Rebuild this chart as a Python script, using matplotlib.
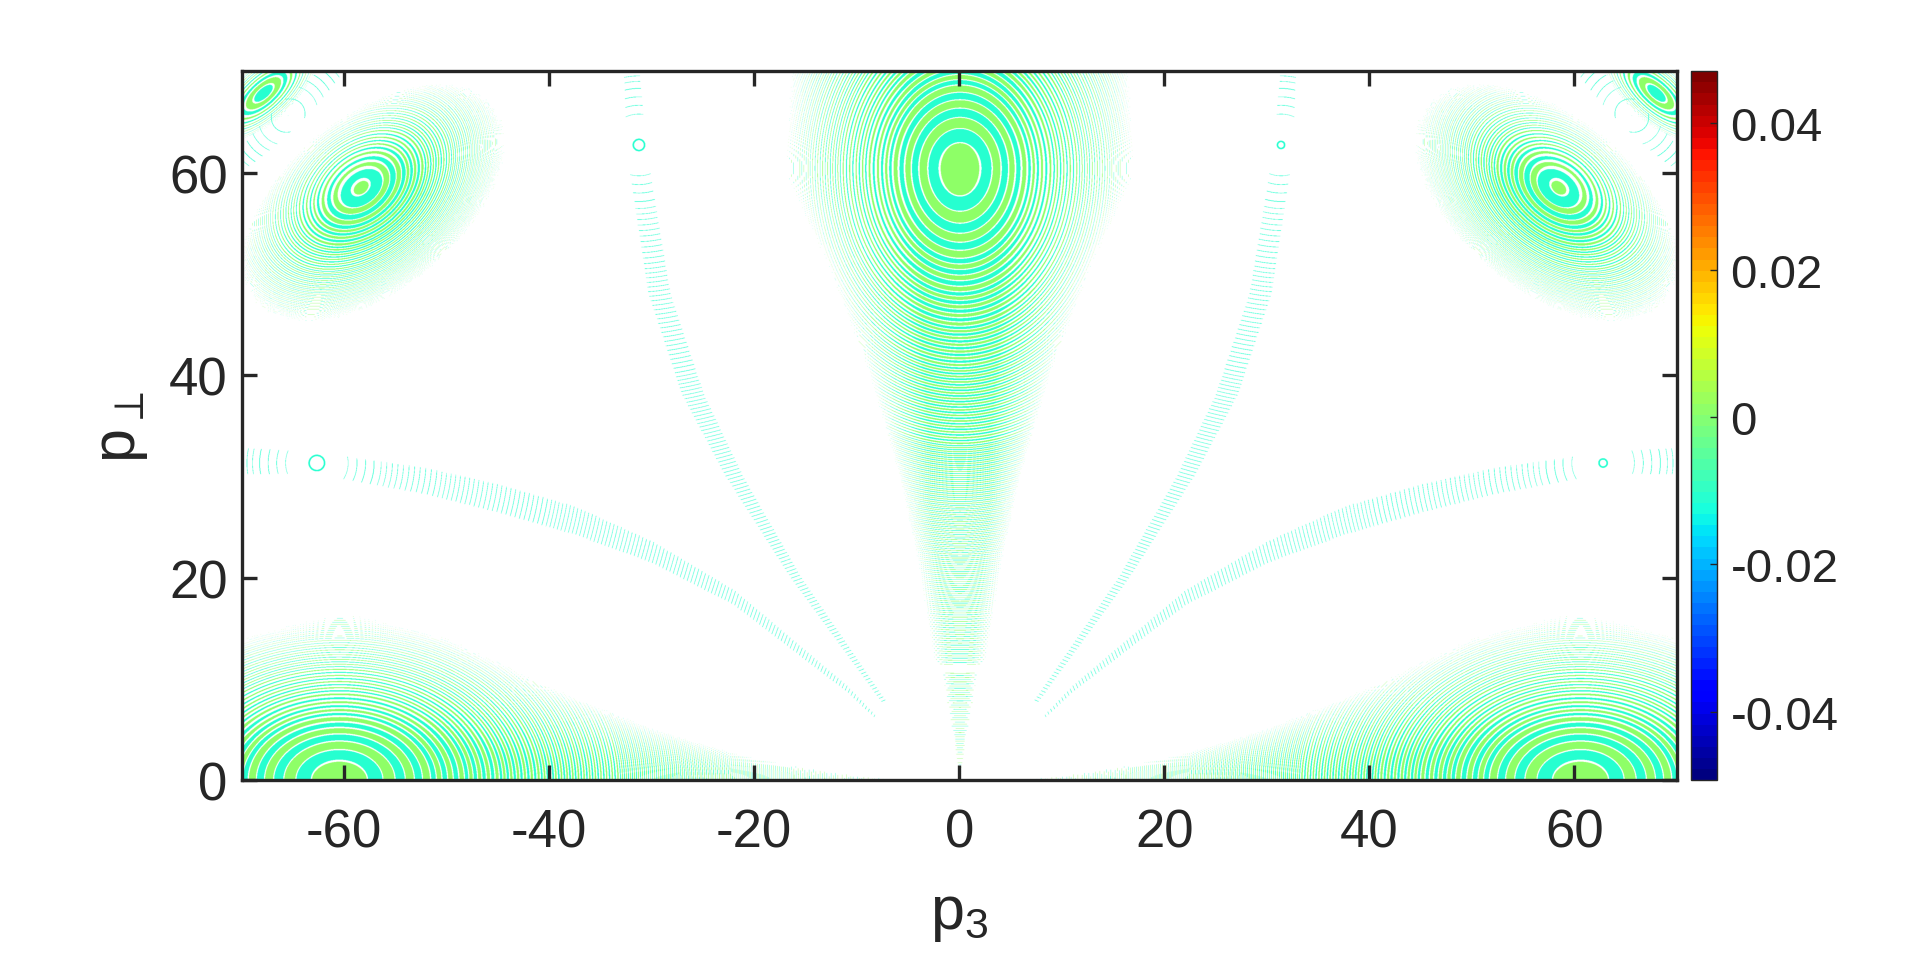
import numpy as np
import matplotlib
matplotlib.use("Agg")
import matplotlib.pyplot as plt

plt.rcParams['font.family'] = ['Liberation Sans', 'DejaVu Sans']
plt.rcParams['mathtext.fontset'] = 'dejavusans'
plt.rcParams['mathtext.default'] = 'regular'
plt.rcParams['axes.unicode_minus'] = False

INK = '#262626'

# colour limits and the two values the fringes take
vmin, vmax = -0.0493, 0.047
green_value, cyan_value = 0.0011, -0.0105

x_ticks = [-60, -40, -20, 0, 20, 40, 60]
y_ticks = [0, 20, 40, 60]
cbar_ticks = [-0.04, -0.02, 0, 0.02, 0.04]
cbar_labels = ['-0.04', '-0.02', '0', '0.02', '0.04']

# fringe number against radius, read along the long axis of each ring system
central_r = [0, 2.77, 4.25, 5.43, 6.42, 7.31, 8.1, 8.9, 12.2, 15.6, 19.6, 27.3, 33.2, 38.2, 44, 50.4, 55.4, 62]
central_n = [-0.5, 0, 1, 2, 3, 4, 5, 6, 12, 20, 32, 60, 90, 118, 148, 178, 202, 233]
side_r = [0, 0.98, 2.45, 3.2, 3.9, 4.5, 5.0, 7, 9.9, 12.1, 14.8, 18.4, 24]
side_n = [-0.5, 0, 1, 2, 3, 4, 5, 10, 20, 30, 45, 70, 120]
corner_r = [0, 1.3, 2.3, 3.1, 3.7, 4.3, 6, 9, 14]
corner_n = [-0.5, 0, 1, 2, 3, 4, 8, 18, 40]
streak_r = [0, 2.6, 3.5, 6, 12, 23, 40, 60]
streak_n = [-0.5, 1, 2, 5, 16, 40, 85, 140]

# how much of a fringe is coloured against the distance out in its envelope
cover_u = [0, 0.3, 0.5, 0.75, 1, 1.1]
cover_v = [1, 0.8, 0.5, 0.28, 0.1, 0]

# central system: half width of the wedge against p_perp, and how it pales downward
wedge_y = [0, 2, 10.5, 12, 22, 30, 40, 50, 60, 70]
wedge_w = [0.05, 0.25, 1.56, 2.3, 3.8, 5.4, 8, 11.4, 15.5, 15]
pale_y = [0, 10, 20, 35]
pale_v = [0.25, 0.45, 0.6, 1]
central_gap = [10.7, 11.4]

# bottom system: top of the envelope against p3
bottom_x = [-70, -60, -50, -40, -30, -20, -10, -6]
bottom_y = [13, 15, 13, 9, 5.5, 2.8, 0.8, 0.1]

# faint arcs running out from the origin (left side, mirrored for the right)
arc1_y = [6, 8, 20, 30, 38, 48, 62, 70]
arc1_x = [-6, -7.6, -16, -22, -26, -29.3, -31.5, -32]
arc1_w = [0.15, 0.25, 0.5, 0.8, 1.0, 1.0, 0.9, 0.7]
arc2_x = [-70, -63, -52, -45, -37.5, -30, -22, -11, -8]
arc2_y = [31.5, 31.3, 29.5, 27.8, 25.6, 22.5, 18, 9, 6]
arc2_w = [1.2, 1.0, 1.2, 1.3, 1.3, 1.0, 0.7, 0.3, 0.15]

# small isolated rings: p3, p_perp, radius
ring_x = [-62.7, -31.3, 62.7, 31.3]
ring_y = [31.3, 62.7, 31.3, 62.7]
ring_r = [0.75, 0.55, 0.4, 0.35]

# half grid, three samples per output pixel; mirrored afterwards
nx, ny = 2154, 2124
xs = (np.arange(nx) + 0.5) / nx * 70 - 70
ys = (np.arange(ny) + 0.5) / ny * 70
X, Y = np.meshgrid(xs.astype(np.float32), ys.astype(np.float32))
field = np.full(X.shape, np.nan, dtype=np.float32)


def tilted(dx, dy, a, b, tilt):
    t = np.radians(tilt)
    along = dx * np.cos(t) + dy * np.sin(t)
    across = -dx * np.sin(t) + dy * np.cos(t)
    return np.hypot(along / a, across / b)


def paint(rho, u, table_r, table_n, first, thin=None, keep=None, gain=1.0):
    """Colour the fringes of one system; first is the value of the centre band."""
    order = np.interp(rho, table_r, table_n)
    step = np.gradient(np.array(table_r, float)) / np.gradient(np.array(table_n, float))
    band_w = np.interp(rho, table_r, step)
    cover = np.interp(u, cover_u, cover_v)
    if thin is None:
        cover = np.minimum(cover, np.clip(1 - 0.11 / band_w, 0.35, 1)) * gain
        other = cyan_value if first == green_value else green_value
    else:
        cover = np.minimum(cover * 1.6, thin / band_w)
        other = first
    d = 2 * np.abs(order - np.round(order))
    on = d > 1 - cover
    if keep is not None:
        on &= keep
    odd = np.floor(order).astype(int) % 2 == 1
    field[on] = np.where(odd, first, other)[on]


# central system, egg shaped: a little tighter above the centre
dy = Y - 60.4
rho = np.hypot(X / 0.74, dy * np.where(dy > 0, 1.08, 1.0))
u = np.abs(X) / np.interp(Y, wedge_y, wedge_w)
paint(rho, u, central_r, central_n, green_value, gain=np.interp(Y, pale_y, pale_v),
      keep=~((Y > central_gap[0]) & (Y < central_gap[1]) & (np.abs(X) < 3)))

# bottom system
dx = X + 60.5
rho = np.hypot(dx, Y / 0.71)
u = np.hypot(Y / np.interp(X, bottom_x, bottom_y, left=13, right=0.05), dx / 52)
paint(rho, u, central_r, central_n, green_value)

# side system
rho = tilted(X + 58.4, Y - 58.5, 1.0, 0.68, 40)
u = tilted(X + 57.2, Y - 57, 13.8, 7.8, 40)
paint(rho, u, side_r, side_n, green_value)

# corner system and the faint diagonal beside it
rho = tilted(X + 67.9, Y - 67.8, 1.0, 0.42, 42)
u = tilted(X + 67.9, Y - 67.8, 6, 2.6, 42)
paint(rho, u, corner_r, corner_n, cyan_value)
rho = tilted(X + 65.5, Y - 65.6, 1.0, 0.9, 45)
u = tilted(X + 65.5, Y - 65.6, 7.5, 1.2, 45)
paint(rho, u, streak_r, streak_n, cyan_value, thin=0.05)

# faint arcs
rho = np.hypot(X + 31.3, Y - 62.7)
u = np.abs(X - np.interp(Y, arc1_y, arc1_x)) / np.interp(Y, arc1_y, arc1_w)
paint(rho, u, streak_r, streak_n, cyan_value, thin=0.05, keep=(Y > 6) & (rho > 2))
rho = np.hypot(X + 62.7, Y - 31.3)
u = np.abs(Y - np.interp(X, arc2_x, arc2_y)) / np.interp(X, arc2_x, arc2_w)
paint(rho, u, streak_r, streak_n, cyan_value, thin=0.05, keep=(X < -8) & (rho > 2))

field = np.hstack([field, field[:, ::-1]])
grid_x = np.concatenate([xs, -xs[::-1]])
GX, GY = np.meshgrid(grid_x.astype(np.float32), ys.astype(np.float32))
for cx, cy, r in zip(ring_x, ring_y, ring_r):
    d = np.hypot(GX - cx, GY - cy)
    field[np.abs(d - r) < 0.08] = cyan_value

cmap = plt.get_cmap('jet', 64).copy()
cmap.set_bad('white')

W, H = 1920, 962
fig = plt.figure(figsize=(W / 100, H / 100), dpi=100)
ax = fig.add_axes([241.5 / W, 1 - 781 / H, (1677 - 241.5) / W, (781 - 72.3) / H])
im = ax.imshow(np.ma.masked_invalid(field), origin='lower', extent=[-70, 70, 0, 70], aspect='auto',
               cmap=cmap, vmin=vmin, vmax=vmax, interpolation='hanning', interpolation_stage='rgba')

ax.set_xticks(x_ticks)
ax.set_yticks(y_ticks)
ax.tick_params(direction='in', length=10.8, width=2.4, color=INK, labelcolor=INK, labelsize=38,
               top=True, right=True)
ax.tick_params(axis='x', pad=20)
ax.tick_params(axis='y', pad=10)
for s in ax.spines.values():
    s.set_linewidth(2.4)
    s.set_color(INK)
ax.set_xlabel(r'$p_3$', fontsize=44, color=INK, labelpad=20)
ax.set_ylabel(r'$p_\perp$', fontsize=44, color=INK, labelpad=14)

cax = fig.add_axes([1690.7 / W, 1 - 781 / H, 26 / W, (781 - 72.3) / H])
cb = fig.colorbar(im, cax=cax)
cb.set_ticks(cbar_ticks, labels=cbar_labels)
cax.tick_params(direction='in', length=5, width=1, color=INK, labelcolor=INK, labelsize=34, pad=10)
cb.outline.set_edgecolor(INK)
cb.outline.set_linewidth(1)

fig.savefig('out.png', dpi=100)
